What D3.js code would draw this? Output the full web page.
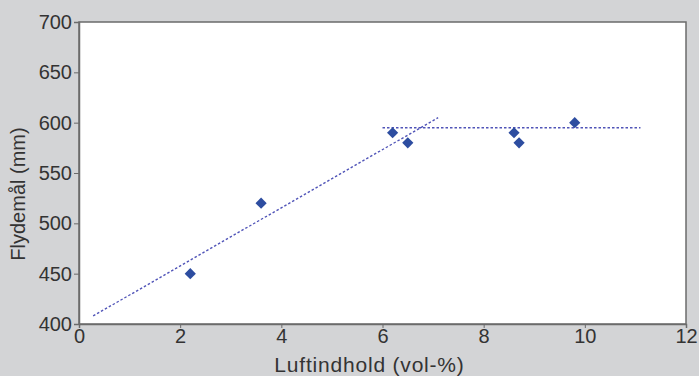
<!DOCTYPE html>
<html>
<head>
<script src="https://d3js.org/d3.v7.min.js"></script>
<style>
  body { margin: 0; background: #d3d4d6; }
  svg { display: block; font-family: "Liberation Sans", Arial, sans-serif; }
</style>
</head>
<body>
<svg id="chart" width="699" height="376"></svg>
<script>
// measured points: air content (vol-%) vs flow (mm)
var luftindhold = [2.2, 3.6, 6.2, 6.5, 8.6, 8.7, 9.8];
var flydemaal = [450, 520, 590, 580, 590, 580, 600];

// trend lines (start/end)
var trendRiseX = [0.28, 7.1];
var trendRiseY = [408, 605];
var trendFlatX = [6.0, 11.1];
var trendFlatY = [595, 595];

var xTicks = [0, 2, 4, 6, 8, 10, 12];
var yTicks = [400, 450, 500, 550, 600, 650, 700];

var svg = d3.select("#chart");
var margin = {top: 22, right: 13, bottom: 52, left: 79};
var w = 699 - margin.left - margin.right,
    h = 376 - margin.top - margin.bottom;

var x = d3.scaleLinear().domain([0, 12]).range([0, w]);
var y = d3.scaleLinear().domain([400, 700]).range([h, 0]);

var g = svg.append("g")
  .attr("transform", "translate(" + margin.left + "," + margin.top + ")");

// plot area
g.append("rect")
  .attr("width", w).attr("height", h)
  .attr("fill", "#fff")
  .attr("stroke", "#6b6b6b")
  .attr("stroke-width", 1.5);

// axes
var xAxis = g.append("g")
  .attr("transform", "translate(0," + h + ")")
  .call(d3.axisBottom(x).tickValues(xTicks).tickSize(4).tickPadding(1));
var yAxis = g.append("g")
  .call(d3.axisLeft(y).tickValues(yTicks).tickSize(5).tickPadding(2));

[xAxis, yAxis].forEach(function(a) {
  a.select(".domain").attr("stroke", "#6b6b6b").attr("stroke-width", 1.5);
  a.selectAll(".tick line").attr("stroke", "#6b6b6b");
  a.selectAll("text")
    .attr("fill", "#333")
    .style("font-size", "20px")
    .style("font-family", "'Liberation Sans', Arial, sans-serif");
});

// trend lines
var line = d3.line()
  .x(function(d) { return x(d[0]); })
  .y(function(d) { return y(d[1]); });

[[trendRiseX, trendRiseY], [trendFlatX, trendFlatY]].forEach(function(t) {
  g.append("path")
    .datum(d3.zip(t[0], t[1]))
    .attr("d", line)
    .attr("fill", "none")
    .attr("stroke", "#5054b8")
    .attr("stroke-width", 1.4)
    .attr("stroke-dasharray", "2.5,2");
});

// diamonds
g.selectAll(".pt")
  .data(d3.zip(luftindhold, flydemaal))
  .enter().append("path")
  .attr("class", "pt")
  .attr("transform", function(d) { return "translate(" + x(d[0]) + "," + y(d[1]) + ")"; })
  .attr("d", d3.symbol().type(d3.symbolDiamond2).size(80))
  .attr("fill", "#2d4da0");

// axis titles
svg.append("text")
  .attr("x", margin.left + w / 2 - 13)
  .attr("y", 372)
  .attr("text-anchor", "middle")
  .attr("fill", "#333")
  .style("font-size", "21px")
  .style("letter-spacing", "0.8px")
  .text("Luftindhold (vol-%)");

svg.append("text")
  .attr("transform", "translate(25," + (margin.top + h / 2 + 21) + ") rotate(-90)")
  .attr("text-anchor", "middle")
  .attr("fill", "#333")
  .style("font-size", "20px")
  .text("Flydemål (mm)");
</script>
</body>
</html>
